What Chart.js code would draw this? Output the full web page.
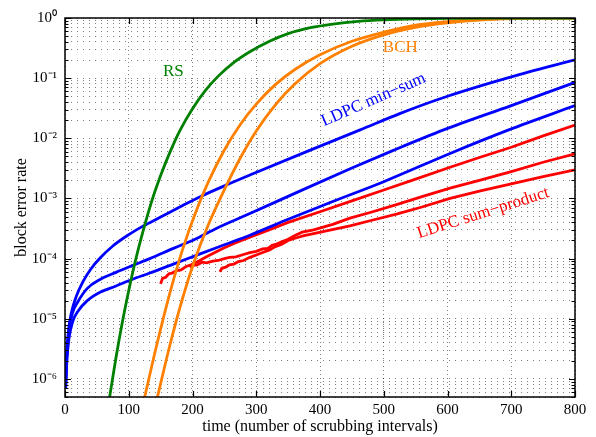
<!DOCTYPE html>
<html>
<head>
<meta charset="utf-8">
<script src="https://cdn.jsdelivr.net/npm/chart.js@4.4.0/dist/chart.umd.min.js"></script>
<style>
  html, body { margin: 0; padding: 0; background: #fff; }
  #wrap { width: 596px; height: 437px; }
</style>
</head>
<body>
<div id="wrap"><canvas id="myChart" width="596" height="437"></canvas></div>
<script>
// values (x = time, y = block error rate)
const rsX = [70, 80, 90, 100, 110, 120, 135, 150, 165, 180, 200, 220, 240, 265, 290, 320, 350, 385, 420, 460, 500, 550, 600, 700, 800];
const rsY = [5.0e-7, 2.26e-6, 8.8e-6, 2.95e-5, 8.8e-5, 2.3e-4, 8.3e-4, 2.4e-3, 6.0e-3, 1.33e-2, 3.1e-2, 6.2e-2, 0.107, 0.183, 0.275, 0.407, 0.55, 0.69, 0.794, 0.881, 0.933, 0.97, 0.989, 0.998, 1.0];

const bch1X = [125, 145, 165, 185, 205, 225, 250, 275, 300, 330, 360, 400, 450, 500, 550, 600, 650, 700, 750, 800];
const bch1Y = [5.0e-7, 4.1e-6, 2.8e-5, 1.48e-4, 5.9e-4, 1.9e-3, 6.4e-3, 1.7e-2, 3.7e-2, 7.8e-2, 0.138, 0.245, 0.41, 0.58, 0.759, 0.871, 0.944, 0.982, 0.995, 1.0];

const bch2X = [145, 165, 185, 205, 225, 250, 275, 300, 330, 360, 400, 450, 500, 550, 600, 650, 700, 750, 800];
const bch2Y = [5.0e-7, 3.8e-6, 2.3e-5, 1.05e-4, 3.7e-4, 1.4e-3, 4.7e-3, 1.32e-2, 3.6e-2, 7.9e-2, 0.174, 0.339, 0.525, 0.70, 0.832, 0.923, 0.973, 0.993, 1.0];

const ms1X = [1, 3, 6, 10, 18, 28, 40, 55, 75, 100, 123, 150, 180, 212, 250, 290, 379, 463, 526, 600, 700, 800];
const ms1Y = [7.1e-7, 2.8e-6, 7.1e-6, 1.26e-5, 2.4e-5, 4.1e-5, 6.6e-5, 1.02e-4, 1.62e-4, 2.5e-4, 3.5e-4, 4.9e-4, 7.2e-4, 1.07e-3, 1.62e-3, 2.45e-3, 6.0e-3, 1.38e-2, 2.6e-2, 5.0e-2, 0.105, 0.202];

const ms2X = [1, 3, 6, 12, 20, 35, 55, 80, 105, 133, 170, 204, 238, 290, 370, 450, 515, 594, 700, 800];
const ms2Y = [7.9e-7, 2.8e-6, 6.3e-6, 1.26e-5, 1.9e-5, 3.2e-5, 4.5e-5, 5.9e-5, 7.6e-5, 1.0e-4, 1.48e-4, 2.1e-4, 3.2e-4, 5.6e-4, 1.35e-3, 3.2e-3, 6.3e-3, 1.38e-2, 3.5e-2, 8.5e-2];

const ms3X = [1, 3, 6, 12, 20, 35, 55, 80, 105, 133, 170, 212, 250, 290, 350, 420, 500, 604, 696, 800];
const ms3Y = [7.1e-7, 2.0e-6, 4.5e-6, 8.9e-6, 1.32e-5, 2.0e-5, 2.75e-5, 3.5e-5, 4.5e-5, 5.75e-5, 8.1e-5, 1.2e-4, 1.7e-4, 2.45e-4, 4.5e-4, 8.9e-4, 1.9e-3, 5.6e-3, 1.38e-2, 3.5e-2];

const sp1X = [150, 153, 158, 163, 168, 175, 182, 190, 198, 210, 222, 235, 250, 265, 290, 320, 350, 400, 450, 500, 550, 604, 650, 700, 750, 800];
const sp1Y = [3.8e-5, 4.7e-5, 4.9e-5, 5.6e-5, 5.75e-5, 6.3e-5, 6.5e-5, 7.4e-5, 7.9e-5, 9.1e-5, 1.07e-4, 1.26e-4, 1.51e-4, 1.78e-4, 2.26e-4, 3.0e-4, 4.0e-4, 6.0e-4, 9.1e-4, 1.38e-3, 2.1e-3, 3.3e-3, 4.8e-3, 7.1e-3, 1.1e-2, 1.66e-2];

const sp2X = [196, 200, 207, 215, 222, 232, 240, 250, 258, 268, 280, 290, 300, 310, 318, 325, 332, 340, 350, 360, 372, 390, 420, 447, 480, 520, 560, 604, 650, 700, 750, 800];
const sp2Y = [7.1e-5, 7.9e-5, 7.8e-5, 8.7e-5, 8.5e-5, 9.1e-5, 9.3e-5, 1.0e-4, 1.05e-4, 1.07e-4, 1.17e-4, 1.26e-4, 1.32e-4, 1.45e-4, 1.48e-4, 1.66e-4, 1.74e-4, 1.9e-4, 2.1e-4, 2.4e-4, 2.75e-4, 3.0e-4, 3.7e-4, 4.7e-4, 5.9e-4, 7.9e-4, 1.07e-3, 1.48e-3, 2.0e-3, 2.8e-3, 4.0e-3, 5.5e-3];

const sp3X = [243, 246, 252, 258, 265, 272, 280, 290, 300, 310, 320, 330, 340, 350, 362, 375, 390, 410, 447, 480, 520, 560, 604, 650, 700, 750, 800];
const sp3Y = [6.0e-5, 6.9e-5, 7.2e-5, 7.9e-5, 8.1e-5, 8.9e-5, 9.3e-5, 1.05e-4, 1.15e-4, 1.26e-4, 1.38e-4, 1.58e-4, 1.74e-4, 2.0e-4, 2.2e-4, 2.4e-4, 2.6e-4, 2.9e-4, 3.5e-4, 4.3e-4, 5.5e-4, 7.2e-4, 1.0e-3, 1.32e-3, 1.74e-3, 2.3e-3, 3.0e-3];

// axes
const xTicks = [0, 100, 200, 300, 400, 500, 600, 700, 800];
const yDecades = [-7, -6, -5, -4, -3, -2, -1, 0];
const yMin = 5e-7;
const yMax = 1;

// text labels inside the plot (data coordinates)
const noteText = ['RS', 'BCH', 'LDPC min\u2212sum', 'LDPC sum\u2212product'];
const noteX = [170, 526, 484, 656];
const noteY = [0.127, 0.32, 0.0436, 5.7e-4];

const GREEN = '#008000';
const ORANGE = '#ff8000';
const BLUE = '#0000ff';
const RED = '#ff0000';
const SERIF = "'Liberation Serif', 'Times New Roman', serif";

const pts = (xs, ys) => xs.map((x, i) => ({x: x, y: ys[i]}));

const line = (label, xs, ys, color, smooth) => ({
    label: label,
    data: pts(xs, ys),
    borderColor: color,
    backgroundColor: color,
    borderWidth: 2.8,
    pointRadius: 0,
    fill: false,
    cubicInterpolationMode: smooth ? 'monotone' : 'default',
    tension: 0
});

const sup = {'-': '\u207B', '0': '\u2070', '1': '\u00B9', '2': '\u00B2', '3': '\u00B3', '4': '\u2074', '5': '\u2075', '6': '\u2076', '7': '\u2077', '8': '\u2078', '9': '\u2079'};
const isDecade = (v) => Math.abs(Math.log10(v) - Math.round(Math.log10(v))) < 1e-9;

let yTickValues = [];
yDecades.forEach(d => {
    for (let m = 1; m <= 9; m++) {
        const v = Number((m * Math.pow(10, d)).toPrecision(3));
        if (v >= yMin - 1e-12 && v <= yMax + 1e-12) yTickValues.push(v);
    }
});

// frame + inward tick marks, like the original
const framePlugin = {
    id: 'frame',
    afterDatasetsDraw(chart) {
        const {ctx, chartArea: a, scales} = chart;
        ctx.save();
        ctx.strokeStyle = '#000';
        ctx.lineWidth = 1.2;
        ctx.beginPath();
        scales.y.ticks.forEach(t => {
            const py = Math.round(scales.y.getPixelForValue(t.value)) + 0.5;
            const len = isDecade(t.value) ? 6 : 3.5;
            ctx.moveTo(a.left, py); ctx.lineTo(a.left + len, py);
            ctx.moveTo(a.right, py); ctx.lineTo(a.right - len, py);
        });
        scales.x.ticks.forEach(t => {
            const px = Math.round(scales.x.getPixelForValue(t.value)) + 0.5;
            ctx.moveTo(px, a.bottom); ctx.lineTo(px, a.bottom - 6);
            ctx.moveTo(px, a.top); ctx.lineTo(px, a.top + 6);
        });
        ctx.stroke();
        ctx.lineWidth = 1.5;
        ctx.strokeRect(a.left, a.top, a.right - a.left, a.bottom - a.top);
        ctx.restore();
    }
};

const notesPlugin = {
    id: 'notes',
    afterDatasetsDraw(chart) {
        const {ctx, scales} = chart;
        const colors = [GREEN, ORANGE, BLUE, RED];
        const angles = [0, 0, -23.6, -17.6];
        ctx.save();
        ctx.font = '17px ' + SERIF;
        ctx.textAlign = 'center';
        ctx.textBaseline = 'middle';
        noteText.forEach((txt, i) => {
            ctx.save();
            ctx.translate(scales.x.getPixelForValue(noteX[i]), scales.y.getPixelForValue(noteY[i]));
            ctx.rotate(angles[i] * Math.PI / 180);
            ctx.fillStyle = colors[i];
            ctx.fillText(txt, 0, 0);
            ctx.restore();
        });
        ctx.restore();
    }
};

const ctx = document.getElementById('myChart');

new Chart(ctx, {
    type: 'line',
    data: {
        datasets: [
            line('RS', rsX, rsY, GREEN, true),
            line('BCH 1', bch1X, bch1Y, ORANGE, true),
            line('BCH 2', bch2X, bch2Y, ORANGE, true),
            line('LDPC min-sum 1', ms1X, ms1Y, BLUE, true),
            line('LDPC min-sum 2', ms2X, ms2Y, BLUE, true),
            line('LDPC min-sum 3', ms3X, ms3Y, BLUE, true),
            line('LDPC sum-product 1', sp1X, sp1Y, RED, false),
            line('LDPC sum-product 2', sp2X, sp2Y, RED, false),
            line('LDPC sum-product 3', sp3X, sp3Y, RED, false)
        ]
    },
    options: {
        responsive: false,
        animation: false,
        layout: { padding: { left: 0, right: 21, top: 18, bottom: 0 } },
        plugins: {
            legend: { display: false },
            tooltip: { enabled: false }
        },
        scales: {
            x: {
                type: 'linear',
                min: 0,
                max: 800,
                afterBuildTicks: (scale) => { scale.ticks = xTicks.map(v => ({value: v})); },
                afterFit: (scale) => { scale.height = 40; },
                ticks: {
                    color: '#000',
                    padding: 4,
                    maxRotation: 0,
                    autoSkip: false,
                    font: { family: SERIF, size: 15 }
                },
                grid: { color: 'rgba(0,0,0,0.5)', lineWidth: 1, drawTicks: false },
                border: { display: false, dash: [1, 3] },
                title: {
                    display: true,
                    text: 'time (number of scrubbing intervals)',
                    color: '#000',
                    font: { family: SERIF, size: 16 },
                    padding: { top: 0, bottom: 1 }
                }
            },
            y: {
                type: 'logarithmic',
                min: yMin,
                max: yMax,
                afterBuildTicks: (scale) => { scale.ticks = yTickValues.map(v => ({value: v})); },
                afterFit: (scale) => { scale.width = 65; },
                ticks: {
                    color: '#000',
                    padding: 8,
                    autoSkip: false,
                    font: { family: SERIF, size: 15 },
                    callback: (v) => {
                        if (!isDecade(v)) return '';
                        const e = String(Math.round(Math.log10(v)));
                        return '10' + e.split('').map(c => sup[c]).join('');
                    }
                },
                grid: { color: 'rgba(0,0,0,0.5)', lineWidth: 1, drawTicks: false },
                border: { display: false, dash: [1, 5] },
                title: {
                    display: true,
                    text: 'block error rate',
                    color: '#000',
                    font: { family: SERIF, size: 16 },
                    padding: { top: 12, bottom: 0 }
                }
            }
        }
    },
    plugins: [framePlugin, notesPlugin]
});
</script>
</body>
</html>
